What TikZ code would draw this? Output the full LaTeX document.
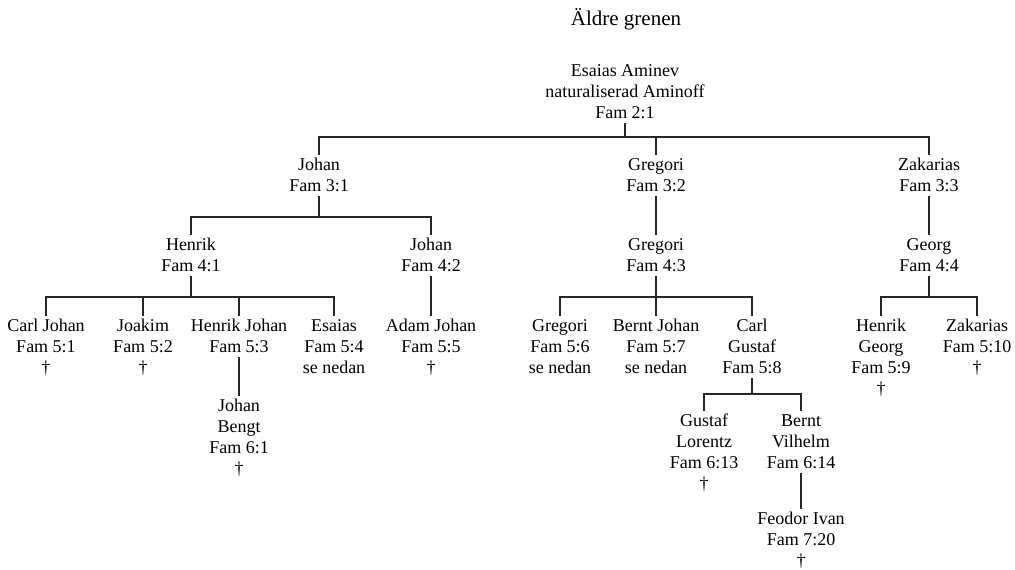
\documentclass[tikz,border=0pt]{standalone}
\usepackage{fontspec}
\setmainfont{Liberation Serif}
\newcommand\tp{\rule{0pt}{15.5pt}}
\newcommand\bt{\rule[-4.5pt]{0pt}{4.5pt}}
\begin{document}
\begin{tikzpicture}[x=1pt,y=-1pt,
  person/.style={anchor=north,align=center,inner sep=0pt,
    font=\fontsize{18}{21}\selectfont},
  titlenode/.style={anchor=base,inner sep=0pt,font=\fontsize{21}{24}\selectfont},
  conn/.style={line width=1.1pt,draw=black!85}]
\useasboundingbox (0,0) rectangle (1015,570);

\node[titlenode] (title) at (626,25.5) {Äldre grenen};

\node[person] (root) at (625,60.8) {\tp Esaias Aminev\\naturaliserad Aminoff\\Fam 2:1\bt};

\node[person] (c31) at (319,154.8) {\tp Johan\\Fam 3:1\bt};
\node[person] (c32) at (656,154.8) {\tp Gregori\\Fam 3:2\bt};
\node[person] (c33) at (929,154.8) {\tp Zakarias\\Fam 3:3\bt};

\node[person] (c41) at (191,234.8) {\tp Henrik\\Fam 4:1\bt};
\node[person] (c42) at (431,234.8) {\tp Johan\\Fam 4:2\bt};
\node[person] (c43) at (656,234.8) {\tp Gregori\\Fam 4:3\bt};
\node[person] (c44) at (929,234.8) {\tp Georg\\Fam 4:4\bt};

\node[person] (c51) at (46,315.8) {\tp Carl Johan\\Fam 5:1\\†\bt};
\node[person] (c52) at (143,315.8) {\tp Joakim\\Fam 5:2\\†\bt};
\node[person] (c53) at (239,315.8) {\tp Henrik Johan\\Fam 5:3\bt};
\node[person] (c54) at (334,315.8) {\tp Esaias\\Fam 5:4\\se nedan\bt};
\node[person] (c55) at (431,315.8) {\tp Adam Johan\\Fam 5:5\\†\bt};
\node[person] (c56) at (560,315.8) {\tp Gregori\\Fam 5:6\\se nedan\bt};
\node[person] (c57) at (656,315.8) {\tp Bernt Johan\\Fam 5:7\\se nedan\bt};
\node[person] (c58) at (752,315.8) {\tp Carl\\Gustaf\\Fam 5:8\bt};
\node[person] (c59) at (881,315.8) {\tp Henrik\\Georg\\Fam 5:9\\†\bt};
\node[person] (c510) at (977,315.8) {\tp Zakarias\\Fam 5:10\\†\bt};

\node[person] (c61) at (239,395.8) {\tp Johan\\Bengt\\Fam 6:1\\†\bt};
\node[person] (c613) at (704,410.8) {\tp Gustaf\\Lorentz\\Fam 6:13\\†\bt};
\node[person] (c614) at (801,410.8) {\tp Bernt\\Vilhelm\\Fam 6:14\bt};

\node[person] (c720) at (801,508.8) {\tp Feodor Ivan\\Fam 7:20\\†\bt};

% buses
\coordinate (b1) at (625,137);
\coordinate (b2) at (319,217);
\coordinate (b3) at (191,297);
\coordinate (b4) at (656,297);
\coordinate (b5) at (929,297);
\coordinate (b6) at (752,394);

\draw[conn] (root.south) -- (b1);
\draw[conn] (c31.north) |- (b1) -| (c33.north);
\draw[conn] (c32.north) -- (c32.north |- b1);

\draw[conn] (c31.south) -- (b2);
\draw[conn] (c41.north) |- (b2) -| (c42.north);
\draw[conn] (c32.south) -- (c43.north);
\draw[conn] (c33.south) -- (c44.north);

\draw[conn] (c41.south) -- (b3);
\draw[conn] (c51.north) |- (b3) -| (c54.north);
\draw[conn] (c52.north) -- (c52.north |- b3);
\draw[conn] (c53.north) -- (c53.north |- b3);
\draw[conn] (c42.south) -- (c55.north);

\draw[conn] (c43.south) -- (b4);
\draw[conn] (c56.north) |- (b4) -| (c58.north);
\draw[conn] (c57.north) -- (c57.north |- b4);

\draw[conn] (c44.south) -- (b5);
\draw[conn] (c59.north) |- (b5) -| (c510.north);

\draw[conn] (c53.south) -- (c61.north);

\draw[conn] (c58.south) -- (b6);
\draw[conn] (c613.north) |- (b6) -| (c614.north);

\draw[conn] (c614.south) -- (c720.north);
\end{tikzpicture}
\end{document}
